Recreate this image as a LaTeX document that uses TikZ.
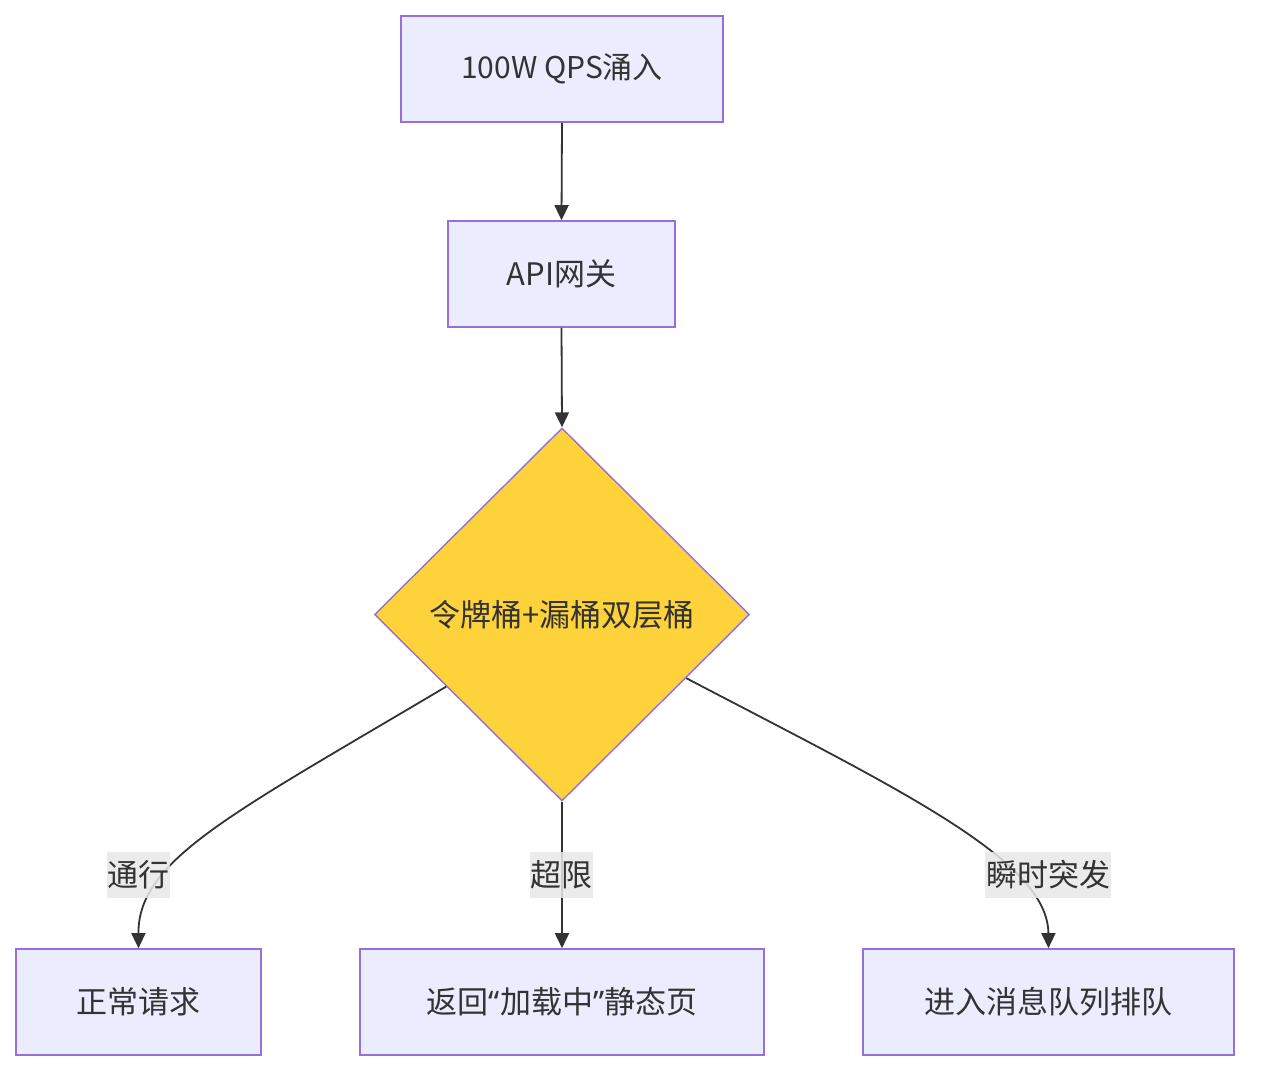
\documentclass[tikz,border=0pt]{standalone}
\usepackage{fontspec}
\setmainfont{Noto Sans CJK SC}
\newfontfamily\latfont{Noto Sans}
\usetikzlibrary{shapes.geometric,arrows.meta,calc}
\definecolor{boxfill}{HTML}{ECECFF}
\definecolor{boxline}{HTML}{9370DB}
\definecolor{diafill}{HTML}{FDD23B}
\definecolor{txt}{HTML}{333333}
\definecolor{lblbg}{HTML}{E8E8E8}
\begin{document}
\begin{tikzpicture}[x=1pt,y=-1pt,
  every node/.style={font=\fontsize{31}{35}\selectfont, text=txt},
  procbox/.style={draw=boxline, fill=boxfill, line width=1.6pt, inner sep=0pt},
  decision/.style={diamond, draw=boxline, fill=diafill, line width=1.4pt, inner sep=0pt, minimum width=375pt, minimum height=373pt},
  conn/.style={draw=txt, line width=1.8pt, -{Triangle[length=15pt,width=14pt]}},
  edgelbl/.style={fill=lblbg, fill opacity=0.85, text opacity=1, inner sep=0pt, minimum height=46pt, text width=#1, align=center}
]
\useasboundingbox (0,0) rectangle (1266,1086);
\node[procbox, minimum width=322pt, minimum height=106pt] (src) at (562,69) {\fontsize{30}{34}\selectfont 100W QPS涌入};
\node[procbox, minimum width=227pt, minimum height=106pt] (gw) at (561.5,274) {API网关};
\node[decision] (d) at (562,614.5) {令牌桶+漏桶双层桶};
\node[procbox, minimum width=245pt, minimum height=106pt] (ok) at (138.5,1002) {正常请求};
\node[procbox, minimum width=404pt, minimum height=106pt] (st) at (562,1002) {返回{\latfont “}加载中{\latfont ”}静态页};
\node[procbox, minimum width=371pt, minimum height=106pt] (mq) at (1048.5,1002) {进入消息队列排队};

\draw[conn] (src.south) -- (gw.north);
\draw[conn] (gw.south) -- (d.north);
\coordinate (dl) at ($(d.west)!0.385!(d.south)$);
\coordinate (dr) at ($(d.east)!0.34!(d.south)$);
\draw[conn] (dl) .. controls (230,815) and (138,860) .. (ok.north);
\draw[conn] (d.south) -- (st.north);
\draw[conn] (dr) .. controls (900,790) and (1048,860) .. (mq.north);

\node[edgelbl=63pt] (l1) at (138.5,875) {通行};
\node[edgelbl=63pt] (l2) at (561.5,875) {超限};
\node[edgelbl=126pt] (l3) at (1048,875) {瞬时突发};
\end{tikzpicture}
\end{document}
